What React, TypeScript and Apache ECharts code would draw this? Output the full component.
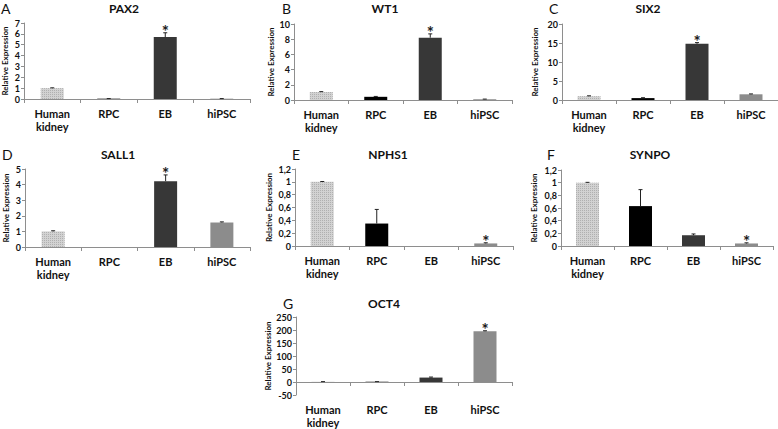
import React, { useEffect, useRef } from 'react';
import * as echarts from 'echarts';

// ---------- data ----------
const categories = ['Human\nkidney', 'RPC', 'EB', 'hiPSC'];
const genes = ['PAX2', 'WT1', 'SIX2', 'SALL1', 'NPHS1', 'SYNPO', 'OCT4'];
const panelLetters = ['A', 'B', 'C', 'D', 'E', 'F', 'G'];

const pax2Values = [1.0, 0.03, 5.7, 0.03];
const pax2Errors = [0.03, 0.01, 0.4, 0.01];
const wt1Values = [1.05, 0.42, 8.2, 0.1];
const wt1Errors = [0.05, 0.05, 0.5, 0.02];
const six2Values = [1.0, 0.5, 14.8, 1.5];
const six2Errors = [0.1, 0.1, 0.3, 0.1];
const sall1Values = [1.0, 0, 4.22, 1.57];
const sall1Errors = [0.04, 0, 0.4, 0.04];
const nphs1Values = [1.0, 0.35, 0, 0.04];
const nphs1Errors = [0.005, 0.22, 0, 0.01];
const synpoValues = [1.0, 0.63, 0.17, 0.04];
const synpoErrors = [0.005, 0.26, 0.02, 0.01];
const oct4Values = [1, 1, 17, 195];
const oct4Errors = [0.5, 0.5, 2, 2];

const starIndex = [2, 2, 2, 2, 3, 3, 3];

const yMin = [0, 0, 0, 0, 0, 0, -50];
const yMax = [7, 10, 20, 5, 1.2, 1.2, 250];
const yInterval = [1, 2, 5, 1, 0.2, 0.2, 50];
const commaDecimals = [false, false, false, false, true, true, false];

const allValues = [pax2Values, wt1Values, six2Values, sall1Values, nphs1Values, synpoValues, oct4Values];
const allErrors = [pax2Errors, wt1Errors, six2Errors, sall1Errors, nphs1Errors, synpoErrors, oct4Errors];

// ---------- layout / style ----------
const grids = [
  { left: 24, top: 23, width: 226, height: 76 },
  { left: 294, top: 24, width: 218, height: 76 },
  { left: 562, top: 24, width: 216, height: 76 },
  { left: 25, top: 169, width: 225, height: 78 },
  { left: 295, top: 169, width: 218, height: 77 },
  { left: 561, top: 170, width: 212, height: 76 },
  { left: 296, top: 317, width: 216, height: 91 },
];
const nameGaps = [15, 19, 23, 15, 22, 23, 21];
const titlePos = [
  [124, 8], [385, 8], [648, 8], [118, 154], [388, 154], [650, 154], [384, 303],
];
const letterPos = [
  [1, 8], [282, 8], [549, 8], [2, 154], [292, 154], [547, 154], [283, 303],
];
const barColors = ['#d2d2d2', '#000000', '#373737', '#8c8c8c'];
const FONT = 'Lato, "Open Sans", sans-serif';
const axisGray = '#8e8e8e';

function buildOption() {
  const grid: any[] = [];
  const xAxis: any[] = [];
  const yAxis: any[] = [];
  const series: any[] = [];
  const graphic: any[] = [];

  for (let i = 0; i < 7; i++) {
    grid.push({ ...grids[i], containLabel: false });
    const isG = i === 6;
    xAxis.push({
      type: 'category',
      gridIndex: i,
      data: categories,
      axisLine: { show: true, onZero: true, lineStyle: { color: axisGray, width: 1 } },
      axisTick: { show: true, length: 4, alignWithLabel: false, lineStyle: { color: axisGray } },
      axisLabel: {
        show: !isG,
        interval: 0,
        margin: 8,
        fontSize: 11,
        fontWeight: 'bold',
        fontFamily: FONT,
        color: '#111',
        lineHeight: 13,
      },
      splitLine: { show: false },
    });
    yAxis.push({
      type: 'value',
      gridIndex: i,
      min: yMin[i],
      max: yMax[i],
      interval: yInterval[i],
      name: 'Relative Expression',
      nameLocation: 'middle',
      nameGap: nameGaps[i],
      nameTextStyle: { fontSize: 8, fontWeight: 'bold', fontFamily: FONT, color: '#111' },
      axisLine: { show: true, lineStyle: { color: axisGray, width: 1 } },
      axisTick: { show: true, length: 3, lineStyle: { color: axisGray } },
      splitLine: { show: false },
      axisLabel: {
        fontSize: 9,
        fontWeight: 'bold',
        fontFamily: FONT,
        color: '#111',
        margin: 4,
        formatter: (v: number) => {
          const r = Math.round(v * 10) / 10;
          const s = String(r);
          return commaDecimals[i] ? s.replace('.', ',') : s;
        },
      },
    });

    const vals = allValues[i];
    const errs = allErrors[i];
    series.push({
      type: 'bar',
      xAxisIndex: i,
      yAxisIndex: i,
      barWidth: 23,
      data: vals.map((v, k) => ({
        value: v,
        itemStyle: {
          color: barColors[k],
          decal:
            k === 0
              ? {
                  symbol: 'rect',
                  symbolSize: 1,
                  dashArrayX: [1, 1],
                  dashArrayY: [1, 1],
                  color: '#b0b0b0',
                }
              : 'none',
        },
      })),
    });
    series.push({
      type: 'custom',
      xAxisIndex: i,
      yAxisIndex: i,
      encode: { x: 0, y: 1 },
      data: vals.map((v, k) => [k, v, errs[k], starIndex[i] === k ? 1 : 0]),
      renderItem: (params: any, api: any) => {
        const x = api.value(0);
        const v = api.value(1);
        const e = api.value(2);
        const s = api.value(3);
        const base = api.coord([x, v]);
        const top = api.coord([x, v + e]);
        const children: any[] = [];
        if (e > 0) {
          children.push({
            type: 'line',
            shape: { x1: base[0], y1: base[1], x2: top[0], y2: top[1] },
            style: { stroke: '#222', lineWidth: 1 },
          });
          children.push({
            type: 'line',
            shape: { x1: top[0] - 2, y1: top[1], x2: top[0] + 2, y2: top[1] },
            style: { stroke: '#222', lineWidth: 1 },
          });
        }
        if (s) {
          children.push({
            type: 'text',
            x: top[0],
            y: top[1] - 1,
            style: {
              text: '*',
              font: `bold 17px ${FONT}`,
              align: 'center',
              verticalAlign: 'middle',
              fill: '#1a1a1a',
            },
          });
        }
        return { type: 'group', children };
      },
      z: 5,
    });

    graphic.push({
      type: 'text',
      x: titlePos[i][0],
      y: titlePos[i][1],
      style: {
        text: genes[i],
        font: `bold 12px ${FONT}`,
        align: 'center',
        verticalAlign: 'middle',
        fill: '#111',
      },
    });
    graphic.push({
      type: 'text',
      x: letterPos[i][0],
      y: letterPos[i][1],
      style: {
        text: panelLetters[i],
        font: `14px ${FONT}`,
        align: 'left',
        verticalAlign: 'middle',
        fill: '#111',
      },
    });
  }

  // extra bottom label axis for panel G (axis line sits at zero, labels at bottom)
  xAxis.push({
    type: 'category',
    gridIndex: 6,
    position: 'bottom',
    data: categories,
    axisLine: { show: false, onZero: false },
    axisTick: { show: false },
    axisLabel: {
      interval: 0,
      margin: 8,
      fontSize: 11,
      fontWeight: 'bold',
      fontFamily: FONT,
      color: '#111',
      lineHeight: 13,
    },
    splitLine: { show: false },
  });

  return {
    animation: false,
    backgroundColor: '#ffffff',
    grid,
    xAxis,
    yAxis,
    series,
    graphic,
  };
}

export default function App() {
  const ref = useRef<HTMLDivElement>(null);
  useEffect(() => {
    if (!ref.current) return;
    const chart = echarts.init(ref.current, undefined, { renderer: 'svg' });
    chart.setOption(buildOption() as any);
    return () => chart.dispose();
  }, []);
  return (
    <div
      ref={ref}
      style={{ position: 'fixed', left: 0, top: 0, width: 778, height: 429, background: '#fff' }}
    />
  );
}
